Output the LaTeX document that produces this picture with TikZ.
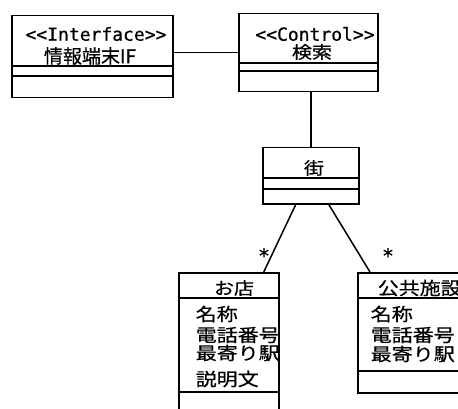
\documentclass[tikz,border=0pt]{standalone}
\usepackage{fontspec}
\newfontfamily\jpfont[FakeBold=0.6]{Noto Sans CJK JP}
\newfontfamily\monofont[FakeBold=0.6]{DejaVu Sans Mono}
\newcommand\sqz[1]{\scalebox{1}[0.85]{#1}}
\begin{document}
\begin{tikzpicture}[x=1pt,y=-1pt,line width=1.5pt,
  cls/.style={draw,rectangle,inner sep=0pt,anchor=north west},
  ster/.style={inner sep=0pt,font=\monofont\fontsize{18}{18}\selectfont},
  hd/.style={inner sep=0pt,font=\jpfont\fontsize{19}{20}\selectfont},
  attr/.style={inner sep=0pt,anchor=west,font=\jpfont\fontsize{21}{21}\selectfont},
  mult/.style={inner sep=0pt,font=\monofont\fontsize{20}{20}\selectfont}]
\useasboundingbox (0,0) rectangle (458,409);
\clip (0,0) rectangle (458,409);
% class boxes
\node[cls,minimum width=161pt,minimum height=82pt] (b1) at (11,15) {};
\node[cls,minimum width=139pt,minimum height=78pt] (b2) at (238,13) {};
\node[cls,minimum width=96pt,minimum height=56pt] (b3) at (262,147) {};
\node[cls,minimum width=100pt,minimum height=150pt] (b4) at (178,272) {};
\node[cls,minimum width=120pt,minimum height=120pt] (b5) at (357,272) {};
% compartment lines
\draw (b1.west |- 0,66) -- (b1.east |- 0,66);
\draw (b1.west |- 0,76) -- (b1.east |- 0,76);
\draw (b2.west |- 0,63) -- (b2.east |- 0,63);
\draw (b2.west |- 0,71) -- (b2.east |- 0,71);
\draw (b3.west |- 0,178) -- (b3.east |- 0,178);
\draw (b3.west |- 0,189) -- (b3.east |- 0,189);
\draw (b4.west |- 0,298) -- (b4.east |- 0,298);
\draw (b4.west |- 0,392) -- (b4.east |- 0,392);
\draw (b5.west |- 0,298) -- (b5.east |- 0,298);
\draw (b5.west |- 0,371) -- (b5.east |- 0,371);
% texts
\node[ster] (t1a) at (96,34) {<<Interface>>};
\node[hd] (t1b) at (90,56) {情報端末IF};
\node[ster] (t2a) at (315,34) {<<Control>>};
\node[hd,font=\jpfont\fontsize{20}{20}\selectfont] (t2b) at (312,52) {\sqz{検索}};
\node[hd,font=\jpfont\fontsize{20}{20}\selectfont] (t3) at (314,168) {\sqz{街}};
\node[hd,font=\jpfont\fontsize{20}{20}\selectfont] (t4) at (234,288) {\sqz{お店}};
\node[hd,anchor=west,font=\jpfont\fontsize{21}{21}\selectfont] (t5) at (377,288) {\sqz{公共施設}};
\node[attr] (a41) at (195,314) {\sqz{名称}};
\node[attr] (a42) at (195,335) {\sqz{電話番号}};
\node[attr] (a43) at (195,353) {\sqz{最寄り駅}};
\node[attr] (a44) at (195,379) {\sqz{説明文}};
\node[attr] (a51) at (370,314) {\sqz{名称}};
\node[attr] (a52) at (370,335) {\sqz{電話番号}};
\node[attr] (a53) at (370,354) {\sqz{最寄り駅}};
% connectors
\draw (b1.east |- b2.west) -- (b2.west);
\draw (b3.north) -- (b3.north |- b2.south);
\draw ([xshift=-15pt]b3.south) -- ([xshift=35pt]b4.north);
\draw ([xshift=18pt]b3.south) -- ([xshift=13pt]b5.north west);
\node[mult] (m1) at (264,255.5) {*};
\node[mult] (m2) at (388,255.5) {*};
\end{tikzpicture}
\end{document}
